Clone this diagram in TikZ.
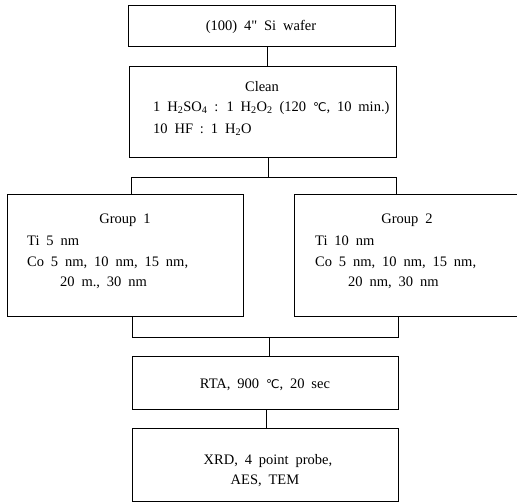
\documentclass[tikz,border=0pt]{standalone}
\usepackage{fontspec}
\setmainfont[WordSpace=1.9]{Liberation Serif}
\newfontfamily\degfont{DejaVu Sans}
\newcommand{\degC}{{\degfont\fontsize{12}{14}\selectfont ℃}}
\begin{document}
\begin{tikzpicture}[x=1pt,y=1pt,
  box/.style={draw,line width=0.9pt,rectangle,inner sep=0pt},
  txt/.style={inner sep=0pt,font=\fontsize{14.5}{17}\selectfont},
  link/.style={line width=0.9pt}]
\useasboundingbox (0,0) rectangle (517,-502);
% boxes
\node[box,minimum width=267,minimum height=41] (wafer) at (261.5,-25.5) {};
\node[box,minimum width=267,minimum height=91] (clean) at (262.5,-111.5) {};
\node[box,minimum width=236,minimum height=122] (g1) at (125,-255) {};
\node[box,minimum width=226,minimum height=122] (g2) at (407,-255) {};
\node[box,minimum width=266,minimum height=53] (rta) at (265,-382.5) {};
\node[box,minimum width=266,minimum height=73] (xrd) at (265,-464.5) {};
% texts
\node[txt] (t1) at (261,-27) {(100) 4\textquotedbl\ Si wafer};
\node[txt] (t2) at (262,-87) {Clean};
\node[txt,anchor=west] (t3) at (153,-108) {1 H\textsubscript{2}SO\textsubscript{4} : 1 H\textsubscript{2}O\textsubscript{2} (120 \degC, 10 min.)};
\node[txt,anchor=west] (t4) at (153,-130) {10 HF : 1 H\textsubscript{2}O};
\node[txt] (g1a) at (125,-220) {Group 1};
\node[txt,anchor=west] (g1b) at (27,-241) {Ti 5 nm};
\node[txt,anchor=west] (g1c) at (27,-263) {Co 5 nm, 10 nm, 15 nm,};
\node[txt,anchor=west] (g1d) at (60,-283) {20 m., 30 nm};
\node[txt] (g2a) at (407,-220) {Group 2};
\node[txt,anchor=west] (g2b) at (315,-241) {Ti 10 nm};
\node[txt,anchor=west] (g2c) at (315,-263) {Co 5 nm, 10 nm, 15 nm,};
\node[txt,anchor=west] (g2d) at (348,-283) {20 nm, 30 nm};
\node[txt] (r1) at (265,-385) {RTA, 900 \degC, 20 sec};
\node[txt] (x1) at (268,-461) {XRD, 4 point probe,};
\node[txt] (x2) at (265,-481) {AES, TEM};
% coordinates
\coordinate (c1) at (267,0);
\coordinate (c2) at (268,0);
\coordinate (split) at (268,-177);
\coordinate (sl) at (131,-177);
\coordinate (sr) at (396,-177);
\coordinate (jl) at (132,-337);
\coordinate (jr) at (398,-337);
\coordinate (join) at (269,-337);
\coordinate (c3) at (266,0);
% connectors
\draw[link] (wafer.south -| c1) -- (clean.north -| c1);
\draw[link] (clean.south -| c2) -- (split);
\draw[link] (g1.north -| sl) -- (sl) -- (sr) -- (g2.north -| sr);
\draw[link] (g1.south -| jl) -- (jl) -- (jr) -- (g2.south -| jr);
\draw[link] (join) -- (rta.north -| join);
\draw[link] (rta.south -| c3) -- (xrd.north -| c3);
\end{tikzpicture}
\end{document}
